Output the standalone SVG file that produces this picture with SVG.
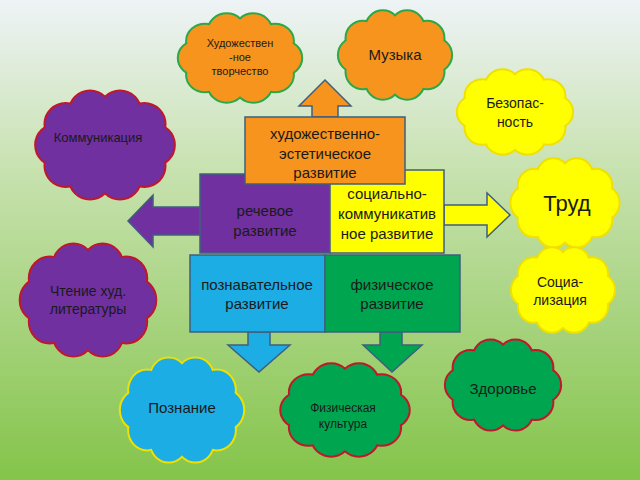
<svg xmlns="http://www.w3.org/2000/svg" xmlns:xlink="http://www.w3.org/1999/xlink" width="640" height="480" viewBox="0 0 640 480">
<defs>
<linearGradient id="bg" x1="0" y1="0" x2="0" y2="1">
<stop offset="0" stop-color="#eef3f6"/><stop offset="0.35" stop-color="#c8e2b0"/><stop offset="1" stop-color="#84c44a"/>
</linearGradient>
<g id="cl">
<ellipse cx="0" cy="0" rx="38" ry="28" vector-effect="non-scaling-stroke"/>
<circle cx="36" cy="0" r="15" vector-effect="non-scaling-stroke"/>
<circle cx="29.1" cy="15.3" r="15" vector-effect="non-scaling-stroke"/>
<circle cx="11.1" cy="24.7" r="15" vector-effect="non-scaling-stroke"/>
<circle cx="-11.1" cy="24.7" r="15" vector-effect="non-scaling-stroke"/>
<circle cx="-29.1" cy="15.3" r="15" vector-effect="non-scaling-stroke"/>
<circle cx="-36" cy="0" r="15" vector-effect="non-scaling-stroke"/>
<circle cx="-29.1" cy="-15.3" r="15" vector-effect="non-scaling-stroke"/>
<circle cx="-11.1" cy="-24.7" r="15" vector-effect="non-scaling-stroke"/>
<circle cx="11.1" cy="-24.7" r="15" vector-effect="non-scaling-stroke"/>
<circle cx="29.1" cy="-15.3" r="15" vector-effect="non-scaling-stroke"/>
</g>
<style>
text{font-family:"Liberation Sans",Arial,sans-serif;fill:#1a1a1a;text-anchor:middle}
.b{font-size:15px}
.c{font-size:13px}
.sh{stroke:#3f5f7f;stroke-width:1.5}
</style>
</defs>
<rect width="640" height="480" fill="url(#bg)"/>
<g id="connectors" class="sh">
<path d="M312,117 V106 H299 L325,80 L351,106 H338 V117 Z" fill="#f7941d"/>
<path d="M200,207 H153 V195 L128,221 L153,247 V235 H200 Z" fill="#7030a0"/>
<path d="M444,205 H487 V193 L510,215 L487,237 V225 H444 Z" fill="#ffff00"/>
<path d="M248,332 V345 H228 L259,372 L290,345 H270 V332 Z" fill="#1cade4"/>
<path d="M380,332 V345 H363 L392,372 L422,345 H402 V332 Z" fill="#00a550"/>
</g>
<g id="rech"><rect class="sh" x="200" y="174" width="130" height="79" fill="#7030a0"/>
<text class="b" x="265" y="216">речевое</text><text class="b" x="265" y="236">развитие</text></g>
<g id="soc"><rect class="sh" x="330" y="170" width="114" height="83" fill="#ffff00"/>
<text class="b" x="387" y="199">социально-</text><text class="b" x="387" y="219">коммуникатив</text><text class="b" x="387" y="239">ное развитие</text></g>
<g id="hud"><rect class="sh" x="245" y="117" width="160" height="67" fill="#f7941d"/>
<text class="b" x="325" y="139">художественно-</text><text class="b" x="325" y="159">эстетическое</text><text class="b" x="325" y="178">развитие</text></g>
<g id="pozn"><rect class="sh" x="190" y="255" width="135" height="77" fill="#1cade4"/>
<text class="b" x="257" y="290">познавательное</text><text class="b" x="257" y="309">развитие</text></g>
<g id="fiz"><rect class="sh" x="325" y="255" width="135" height="77" fill="#00a550"/>
<text class="b" x="392" y="290">физическое</text><text class="b" x="392" y="309">развитие</text></g>

<g id="c1"><g transform="translate(240,58) scale(1.2,1.1)"><use xlink:href="#cl" fill="#f7941d" stroke="#2aa84a" stroke-width="4"/><use xlink:href="#cl" fill="#f7941d"/></g>
<text style="font-size:11px" x="240" y="47">Художествен</text><text style="font-size:11px" x="240" y="61">-ное</text><text style="font-size:11px" x="240" y="75">творчество</text></g>
<g id="c2"><g transform="translate(395,55) scale(1.1,1.1)"><use xlink:href="#cl" fill="#f7941d" stroke="#2aa84a" stroke-width="4"/><use xlink:href="#cl" fill="#f7941d"/></g>
<text style="font-size:15px" x="395" y="60">Музыка</text></g>
<g id="c3"><g transform="translate(105,145) scale(1.35,1.35)"><use xlink:href="#cl" fill="#7030a0" stroke="#c0182a" stroke-width="4"/><use xlink:href="#cl" fill="#7030a0"/></g>
<text class="c" x="98" y="142">Коммуникация</text></g>
<g id="c4"><g transform="translate(515,112) scale(1.12,1.05)"><use xlink:href="#cl" fill="#ffff00" stroke="#f0e000" stroke-width="4"/><use xlink:href="#cl" fill="#ffff00"/></g>
<text style="font-size:14px" x="515" y="108">Безопас-</text><text style="font-size:14px" x="515" y="127">ность</text></g>
<g id="c5"><g transform="translate(565,203) scale(1.05,1.1)"><use xlink:href="#cl" fill="#ffff00" stroke="#f0e000" stroke-width="4"/><use xlink:href="#cl" fill="#ffff00"/></g>
<text style="font-size:22px" x="567" y="211">Труд</text></g>
<g id="c6"><g transform="translate(563,290) scale(1.0,1.05)"><use xlink:href="#cl" fill="#ffff00" stroke="#f0e000" stroke-width="4"/><use xlink:href="#cl" fill="#ffff00"/></g>
<text style="font-size:14px" x="560" y="287">Социа-</text><text style="font-size:14px" x="560" y="305">лизация</text></g>
<g id="c7"><g transform="translate(88,300) scale(1.32,1.4)"><use xlink:href="#cl" fill="#7030a0" stroke="#c0182a" stroke-width="4"/><use xlink:href="#cl" fill="#7030a0"/></g>
<text style="font-size:14px" x="88" y="296">Чтение худ.</text><text style="font-size:14px" x="88" y="314">литературы</text></g>
<g id="c8"><g transform="translate(182,410) scale(1.2,1.3)"><use xlink:href="#cl" fill="#1cade4" stroke="#f0e000" stroke-width="4"/><use xlink:href="#cl" fill="#1cade4"/></g>
<text style="font-size:15px" x="182" y="413">Познание</text></g>
<g id="c9"><g transform="translate(345,410) scale(1.25,1.15)"><use xlink:href="#cl" fill="#00a550" stroke="#c0182a" stroke-width="4"/><use xlink:href="#cl" fill="#00a550"/></g>
<text style="font-size:12px" x="343" y="412">Физическая</text><text style="font-size:12px" x="343" y="428">культура</text></g>
<g id="c10"><g transform="translate(503,385) scale(1.12,1.12)"><use xlink:href="#cl" fill="#00a550" stroke="#c0182a" stroke-width="4"/><use xlink:href="#cl" fill="#00a550"/></g>
<text style="font-size:15px" x="503" y="394">Здоровье</text></g>
</svg>
